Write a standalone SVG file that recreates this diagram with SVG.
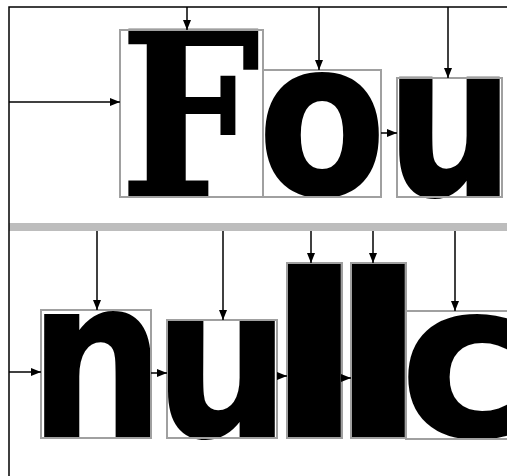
<svg xmlns="http://www.w3.org/2000/svg" width="507" height="476" viewBox="0 0 507 476">
<style>
.box{fill:none;stroke:#a0a0a0;stroke-width:2}
.ln{fill:none;stroke:#000;stroke-width:1.5}
.ser{font-family:"DejaVu Serif","Liberation Serif",serif;font-weight:bold;fill:#000;stroke:#000;stroke-width:2}
.san{font-family:"DejaVu Sans","Liberation Sans",sans-serif;font-weight:bold;fill:#000;stroke:#000;stroke-width:2}
</style>
<defs>
<marker id="ah" viewBox="0 0 10 8" refX="10" refY="4" markerWidth="10" markerHeight="8" markerUnits="userSpaceOnUse" orient="auto">
<path d="M0,0 L10,4 L0,8 Z" fill="#000"/>
</marker>
</defs>
<rect width="507" height="476" fill="#fff"/>
<rect x="9" y="223" width="498" height="8" fill="#bdbdbd"/>
<g id="n-F"><text class="ser" x="190" y="195" font-size="226" text-anchor="middle" textLength="140" lengthAdjust="spacingAndGlyphs">F</text><rect class="box" x="120" y="30" width="143" height="167"/></g>
<g id="n-o"><text class="san" x="322" y="194" font-size="216" text-anchor="middle" textLength="128" lengthAdjust="spacingAndGlyphs">o</text><rect class="box" x="263" y="70" width="118" height="127"/></g>
<g id="n-u"><text class="san" x="450" y="195" font-size="214" text-anchor="middle" textLength="128" lengthAdjust="spacingAndGlyphs">u</text><rect class="box" x="397" y="78" width="105" height="119"/></g>
<g id="n-n"><text class="san" x="97" y="436" font-size="222" text-anchor="middle" textLength="136" lengthAdjust="spacingAndGlyphs">n</text><rect class="box" x="41" y="310" width="110" height="128"/></g>
<g id="n-u2"><text class="san" x="222" y="436" font-size="210" text-anchor="middle" textLength="136" lengthAdjust="spacingAndGlyphs">u</text><rect class="box" x="167" y="320" width="110" height="118"/></g>
<g id="n-l1"><text class="san" x="314" y="436" font-size="226" text-anchor="middle" textLength="100" lengthAdjust="spacingAndGlyphs">l</text><rect class="box" x="287" y="263" width="55" height="175"/></g>
<g id="n-l2"><text class="san" x="378" y="436" font-size="226" text-anchor="middle" textLength="100" lengthAdjust="spacingAndGlyphs">l</text><rect class="box" x="351" y="263" width="55" height="175"/></g>
<g id="n-c"><text class="san" x="464" y="436" font-size="216" text-anchor="middle" textLength="128" lengthAdjust="spacingAndGlyphs">c</text><rect class="box" x="406" y="311" width="104" height="128"/></g>
<g id="connectors">
<path class="ln" d="M9,476 V7 H507"/>
<path class="ln" d="M187,7 V30" marker-end="url(#ah)"/>
<path class="ln" d="M319,7 V70" marker-end="url(#ah)"/>
<path class="ln" d="M448,7 V78" marker-end="url(#ah)"/>
<path class="ln" d="M9,102 H120" marker-end="url(#ah)"/>
<path class="ln" d="M381,133 H397" marker-end="url(#ah)"/>
<path class="ln" d="M97,231 V310" marker-end="url(#ah)"/>
<path class="ln" d="M223,231 V320" marker-end="url(#ah)"/>
<path class="ln" d="M311,231 V263" marker-end="url(#ah)"/>
<path class="ln" d="M373,231 V263" marker-end="url(#ah)"/>
<path class="ln" d="M455,231 V311" marker-end="url(#ah)"/>
<path class="ln" d="M9,372 H41" marker-end="url(#ah)"/>
<path class="ln" d="M151,373 H167" marker-end="url(#ah)"/>
<path class="ln" d="M277,376 H287" marker-end="url(#ah)"/>
<path class="ln" d="M342,378 H351" marker-end="url(#ah)"/>
</g>
</svg>
